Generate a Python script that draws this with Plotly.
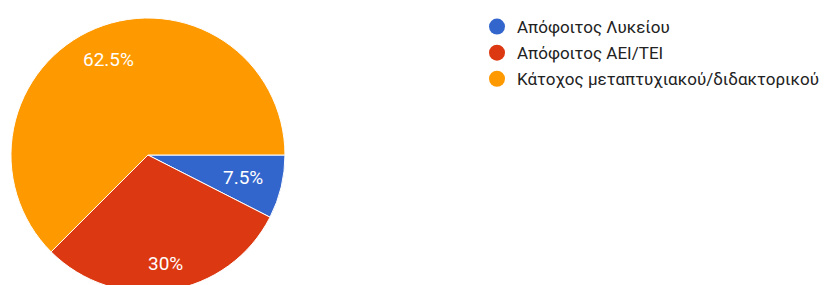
import math
import plotly.graph_objects as go

labels = ["Απόφοιτος Λυκείου", "Απόφοιτος ΑΕΙ/ΤΕΙ", "Κάτοχος μεταπτυχιακού/διδακτορικού"]
values = [7.5, 30, 62.5]
colors = ["#3366cc", "#dc3912", "#ff9900"]

total = sum(values)
pct_text = [f"{v / total * 100:g}%" for v in values]

W, H = 824, 300
CX, CY, R = 148.5, 155.0, 137.5          # pie centre / radius in px (from top-left)
LABEL_SIZE = 19
FONT = "Roboto, Arial, sans-serif"

fig = go.Figure()
fig.add_trace(go.Pie(
    labels=labels, values=values, textinfo="none",
    sort=False, direction="clockwise", rotation=90,
    marker=dict(colors=colors, line=dict(color="white", width=1)),
    showlegend=False, hoverinfo="label+percent",
    domain=dict(x=[(CX - R) / W, (CX + R) / W], y=[(H - CY - R) / H, (H - CY + R) / H]),
))

# slice labels placed along each slice's middle angle (clockwise from 3 o'clock)
char_w = {".": 0.26, "%": 0.73}
cum = 0.0
for v, t in zip(values, pct_text):
    mid = -(cum + v / 2) / total * 2 * math.pi
    cum += v
    hw = sum(char_w.get(c, 0.56) for c in t) * LABEL_SIZE / 2
    hh = 0.36 * LABEL_SIZE
    r = 0.865 * R - (abs(math.cos(mid)) * hw + abs(math.sin(mid)) * hh)
    px = CX + r * math.cos(mid)
    py = CY - r * math.sin(mid)
    fig.add_annotation(x=px / W, y=1 - py / H, xref="paper", yref="paper",
                       text=t, showarrow=False, xanchor="center", yanchor="middle",
                       font=dict(family=FONT, size=LABEL_SIZE, color="white"))

for lab, col in zip(labels, colors):
    fig.add_trace(go.Scatter(
        x=[None], y=[None], mode="markers", name=lab, legendgroup=lab,
        marker=dict(symbol="circle", size=16, color=col),
    ))

fig.update_layout(
    width=W, height=H, margin=dict(l=0, r=0, t=0, b=0),
    paper_bgcolor="white", plot_bgcolor="white",
    xaxis=dict(visible=False), yaxis=dict(visible=False),
    legend=dict(x=479 / W, y=1 - 9 / H, xanchor="left", yanchor="top",
                font=dict(family=FONT, size=17, color="#222222"),
                tracegroupgap=1, itemwidth=30),
)
fig.write_html("out.html", config={"displayModeBar": False},
               post_script="document.body.style.margin='0';document.body.style.overflow='hidden';")
